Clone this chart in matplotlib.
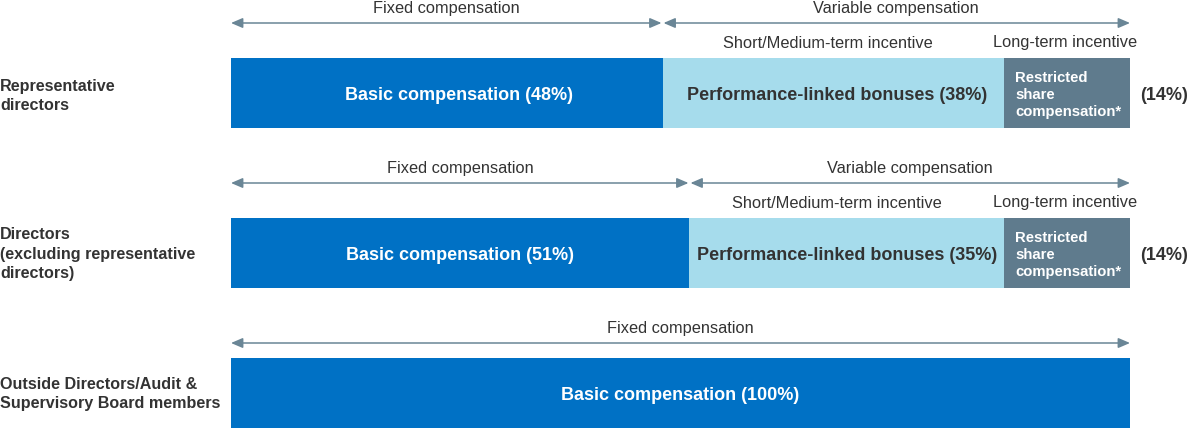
import matplotlib
matplotlib.use("Agg")
import matplotlib.pyplot as plt

plt.rcParams['font.family'] = ['Liberation Sans', 'DejaVu Sans']

# Data
groups = ["Representative\ndirectors",
          "Directors\n(excluding representative\ndirectors)",
          "Outside Directors/Audit &\nSupervisory Board members"]
basic = [48, 51, 100]
bonus = [38, 35, 0]
rsc = [14, 14, 0]

C_BASIC = "#0071C5"
C_BONUS = "#A6DCEC"
C_RSC = "#5F7B8D"
C_TXT = "#333333"
C_ARROW = "#6A8696"

W, H = 1189, 429
fig = plt.figure(figsize=(W / 100, H / 100), dpi=100)
ax = fig.add_axes([0, 0, 1, 1])
px = 100 / 899.0  # percent per pixel
ax.set_xlim(-231 * px, (W - 231) * px)
ax.set_ylim(H, 0)
ax.axis("off")

bar_top = [58, 218, 358]
bar_h = 70
FS_BAR = 13
FS_HDR = 11.8
basic_lbl_shift = [12, 0, 0]   # px
bonus_lbl_shift = [4, 0, 0]
sub_lbl_shift = [-5, -10, 0]

def arrow(x0, x1, y):
    ax.annotate("", xy=(x1, y), xytext=(x0, y),
                arrowprops=dict(arrowstyle="<|-|>,head_length=0.7,head_width=0.3",
                                color=C_ARROW, lw=1.1, shrinkA=0, shrinkB=0))

for i, g in enumerate(groups):
    top = bar_top[i]
    yc = top + bar_h / 2
    ax.barh(yc, basic[i], left=0, height=bar_h, color=C_BASIC, edgecolor="none")
    ax.text(basic[i] / 2 + basic_lbl_shift[i] * px, yc + 2,
            f"Basic compensation ({basic[i]}%)", color="white",
            fontsize=FS_BAR, fontweight="bold", ha="center", va="center")
    if bonus[i] > 0:
        ay = top - 35
        ty = top - 49
        b0 = basic[i]
        ax.barh(yc, bonus[i], left=b0, height=bar_h, color=C_BONUS, edgecolor="none")
        ax.text(b0 + bonus[i] / 2 + bonus_lbl_shift[i] * px, yc + 2,
                f"Performance-linked bonuses ({bonus[i]}%)",
                color=C_TXT, fontsize=FS_BAR, fontweight="bold", ha="center", va="center")
        r0 = b0 + bonus[i]
        ax.barh(yc, rsc[i], left=r0, height=bar_h, color=C_RSC, edgecolor="none")
        ax.text(r0 + 11 * px, yc + 2, "Restricted\nshare\ncompensation*", color="white",
                fontsize=10.7, fontweight="bold", ha="left", va="center", linespacing=1.3)
        ax.text(100 + 10 * px, yc + 2, f"({rsc[i]}%)", color=C_TXT, fontsize=FS_BAR,
                fontweight="bold", ha="left", va="center")
        # arrows
        arrow(0, b0 - 1 * px, ay)
        arrow(b0 + 1 * px, 100, ay)
        ax.text(b0 / 2, ty, "Fixed compensation", color=C_TXT, fontsize=FS_HDR,
                ha="center", va="center")
        ax.text((b0 + 100) / 2, ty, "Variable compensation", color=C_TXT, fontsize=FS_HDR,
                ha="center", va="center")
        sy = top - 15
        ax.text(b0 + bonus[i] / 2 + sub_lbl_shift[i] * px, sy, "Short/Medium-term incentive",
                color=C_TXT, fontsize=FS_HDR, ha="center", va="center")
        ax.text(r0 + rsc[i] / 2 - 2 * px, sy, "Long-term incentive", color=C_TXT,
                fontsize=FS_HDR, ha="center", va="center")
    else:
        ay = top - 15
        ty = top - 29
        arrow(0, 100, ay)
        ax.text(50, ty, "Fixed compensation", color=C_TXT, fontsize=FS_HDR,
                ha="center", va="center")
    ax.text(-231 * px, yc + (3 if i == 0 else 1), g, color=C_TXT, fontsize=11.6,
            fontweight="bold", ha="left", va="center", linespacing=1.4)

fig.savefig("out.png", dpi=100)
